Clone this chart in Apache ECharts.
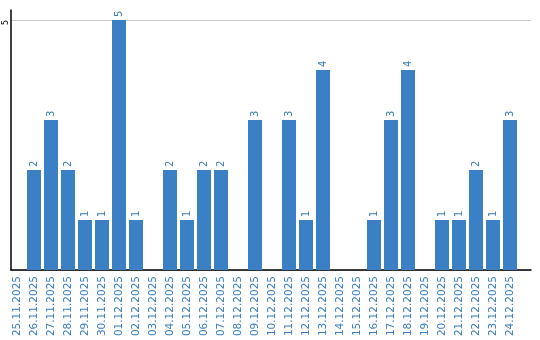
<!DOCTYPE html>
<html><head><meta charset="utf-8">
<script src="https://cdn.jsdelivr.net/npm/echarts@6/dist/echarts.min.js"></script>
<style>html,body{margin:0;padding:0;background:#fff}#c{width:540px;height:340px}</style>
</head><body><div id="c"></div>
<script>
var categories = ['25.11.2025','26.11.2025','27.11.2025','28.11.2025','29.11.2025','30.11.2025','01.12.2025','02.12.2025','03.12.2025','04.12.2025','05.12.2025','06.12.2025','07.12.2025','08.12.2025','09.12.2025','10.12.2025','11.12.2025','12.12.2025','13.12.2025','14.12.2025','15.12.2025','16.12.2025','17.12.2025','18.12.2025','19.12.2025','20.12.2025','21.12.2025','22.12.2025','23.12.2025','24.12.2025'];
var values = [0,2,3,2,1,1,5,1,0,2,1,2,2,0,3,0,3,1,4,0,0,1,3,4,0,1,1,2,1,3];
var yTicks = [5];

var chart = echarts.init(document.getElementById('c'), null, {renderer:'canvas'});
var font = 'DejaVu Sans';
var blue = '#3a7dc2';
chart.setOption({
  animation:false,
  grid:[
    {left:11, top:20, width:520, height:250},
    {left:8.5, top:20, width:510, height:250},
    {left:11, top:10, width:520, height:260}
  ],
  xAxis:[
    {gridIndex:0, type:'category', data:[''], show:false},
    {gridIndex:1, type:'category', data:categories, axisLine:{show:false}, axisTick:{show:false},
     axisLabel:{rotate:90, interval:0, margin:6, color:blue, fontFamily:font, fontSize:10.5}},
    {gridIndex:2, type:'category', data:[''], axisLine:{show:true, lineStyle:{color:'#000', width:1.5}}, axisTick:{show:false}, axisLabel:{show:false}}
  ],
  yAxis:[
    {gridIndex:0, type:'value', min:0, max:5, interval:5,
     axisLine:{show:false}, axisTick:{show:false},
     splitLine:{show:true, lineStyle:{color:'#c8c8c8', width:1}},
     axisLabel:{rotate:90, margin:1, color:'#000', fontFamily:font, fontSize:8,
       align:'right', verticalAlign:'bottom',
       formatter:function(v){return yTicks.indexOf(v)>=0 ? String(v) : '';}}},
    {gridIndex:1, type:'value', min:0, max:5, show:false},
    {gridIndex:2, type:'value', min:0, max:1, axisLine:{show:true, lineStyle:{color:'#000', width:1.5}},
     axisTick:{show:false}, axisLabel:{show:false}, splitLine:{show:false}}
  ],
  series:[{
    type:'bar', xAxisIndex:1, yAxisIndex:1, data:values, barWidth:14,
    itemStyle:{color:'#3b7fc4'},
    label:{show:true, position:'top', rotate:90, distance:3, align:'left', verticalAlign:'middle',
      color:blue, fontFamily:font, fontSize:10,
      formatter:function(p){return p.value ? String(p.value) : '';}}
  }]
});
</script></body></html>
